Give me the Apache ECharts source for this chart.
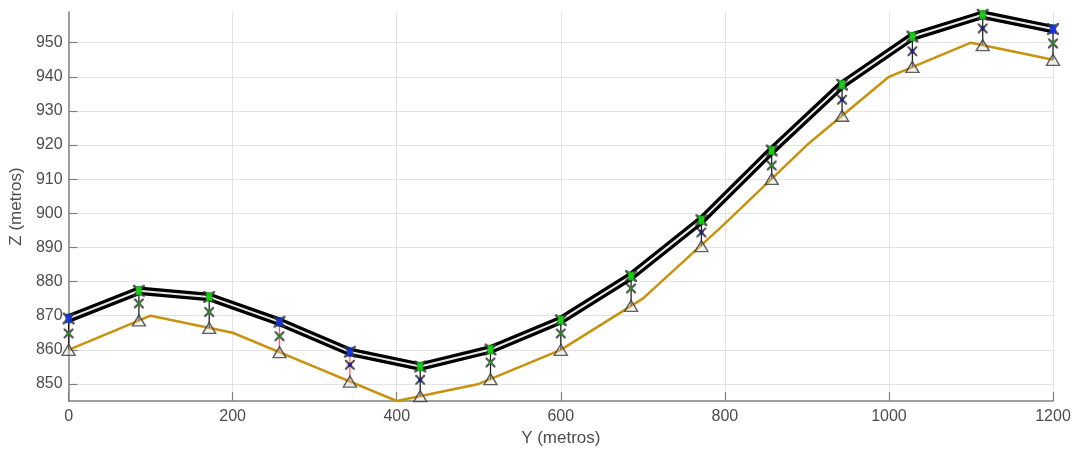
<!DOCTYPE html>
<html>
<head>
<meta charset="utf-8">
<script src="https://cdn.jsdelivr.net/npm/echarts@6/dist/echarts.min.js"></script>
<style>
  html, body { margin: 0; padding: 0; background: #fff; }
  #main { width: 1077px; height: 454px; }
</style>
</head>
<body>
<div id="main"></div>
<script>
// perfil del terreno (cada 100 m)
var terrainY = [0, 100, 200, 300, 400, 500, 600, 700, 800, 900, 1000, 1100, 1200];
var terrainZ = [860, 870, 865, 855, 845, 850, 860, 875, 897, 920, 940, 950, 945];

// torres: posicion, cota de base, punto intermedio y punto de amarre del conductor
var towerY    = [0, 85.7, 171.4, 257.1, 342.9, 428.6, 514.3, 600, 685.7, 771.4, 857.1, 942.9, 1028.6, 1114.3, 1200];
var towerBase = [860, 868.6, 866.4, 859.3, 850.7, 846.4, 851.4, 860, 872.9, 890.4, 910.1, 928.6, 942.9, 949.3, 945];
var towerMid  = [864.8, 873.6, 871.1, 864, 855.6, 851.2, 856.3, 864.8, 878, 894.4, 914, 933.3, 947.5, 954.2, 949.8];
var towerTop  = [869.2, 877.3, 875.5, 868.2, 859.4, 855.1, 860.1, 868.7, 881.6, 898, 918.4, 937.7, 951.8, 958.2, 954];

// indices de torres con marcas distintas
var redPole = [3, 4];
var blueTop = [0, 3, 4, 14];
var navyMid = [4, 5, 9, 11, 12, 13];

var xTicks = [0, 200, 400, 600, 800, 1000, 1200];

var xPath = 'path://M0,0 L1.6,0 L5,3.4 L8.4,0 L10,0 L10,1.6 L6.6,5 L10,8.4 L10,10 L8.4,10 L5,6.6 L1.6,10 L0,10 L0,8.4 L3.4,5 L0,1.6 Z';

function pairs(xs, ys){
    var out = [];
    for (var i = 0; i < xs.length; i++) out.push([xs[i], ys[i]]);
    return out;
}

function has(list, i){ return list.indexOf(i) >= 0; }

function initChart(){
    var myChart = echarts.init(document.getElementById('main'));

    var poleData = [], midData = [], topData = [];
    for (var i = 0; i < towerY.length; i++) {
        poleData.push([towerY[i], towerBase[i], towerTop[i], has(redPole, i) ? 1 : 0]);
        midData.push({value: [towerY[i], towerMid[i]], itemStyle: {color: has(navyMid, i) ? '#1a1a8c' : '#1f9a1f'}});
        topData.push({value: [towerY[i], towerTop[i]], itemStyle: {color: has(blueTop, i) ? '#1030ff' : '#10ee10'}});
    }

    var fontFam = 'Liberation Sans, Arial, sans-serif';

    var option = {
        animation: false,
        backgroundColor: '#fff',
        grid: {left: 66, right: 24, top: 12, bottom: 53},
        xAxis: {
            type: 'value',
            min: 0, max: 1200, interval: 200,
            name: 'Y (metros)',
            nameLocation: 'middle',
            nameGap: 27,
            nameTextStyle: {color: '#4d4d4d', fontSize: 17, fontFamily: fontFam},
            axisLine: {show: true, lineStyle: {color: '#808080', width: 1.5}},
            axisTick: {inside: true, length: 9, lineStyle: {color: '#808080', width: 1.2}},
            axisLabel: {margin: 8, color: '#4d4d4d', fontSize: 16, fontFamily: fontFam,
                formatter: function(v){ return xTicks.indexOf(v) >= 0 ? String(v) : ''; }},
            splitLine: {show: true, lineStyle: {color: '#e3e3e3', width: 1}}
        },
        yAxis: {
            type: 'value',
            min: 845, max: 959,
            minInterval: 10, maxInterval: 10,
            name: 'Z (metros)',
            nameLocation: 'middle',
            nameGap: 42,
            nameTextStyle: {color: '#4d4d4d', fontSize: 17, fontFamily: fontFam},
            axisLine: {show: true, lineStyle: {color: '#808080', width: 1.5}},
            axisTick: {inside: true, length: 9, lineStyle: {color: '#808080', width: 1.2},
                interval: function(idx, v){ return v % 10 === 0; }},
            axisLabel: {margin: 6, showMinLabel: false, showMaxLabel: false,
                color: '#4d4d4d', fontSize: 16, fontFamily: fontFam,
                formatter: function(v){ return v % 10 === 0 ? String(v) : ''; }},
            splitLine: {show: true, showMinLine: false, showMaxLine: false, lineStyle: {color: '#e3e3e3', width: 1}}
        },
        series: [
            {
                name: 'terreno',
                type: 'line',
                data: pairs(terrainY, terrainZ),
                showSymbol: false,
                lineStyle: {color: '#c8920f', width: 2.5},
                z: 2
            },
            {
                name: 'postes',
                type: 'custom',
                data: poleData,
                encode: {x: 0, y: [1, 2]},
                renderItem: function(params, api){
                    var p0 = api.coord([api.value(0), api.value(1)]);
                    var p1 = api.coord([api.value(0), api.value(2)]);
                    return {
                        type: 'line',
                        shape: {x1: p0[0], y1: p0[1], x2: p1[0], y2: p1[1]},
                        style: {stroke: api.value(3) ? '#ff5a5a' : '#222', lineWidth: 1.3}
                    };
                },
                z: 3
            },
            {
                name: 'base',
                type: 'scatter',
                data: pairs(towerY, towerBase),
                symbol: 'triangle',
                symbolSize: [13, 11],
                itemStyle: {color: 'rgba(215,215,215,0.45)', borderColor: '#3a3a3a', borderWidth: 1.4},
                z: 4
            },
            {
                name: 'medio x',
                type: 'scatter',
                data: pairs(towerY, towerMid),
                symbol: xPath,
                symbolSize: 10,
                itemStyle: {color: '#333'},
                z: 5
            },
            {
                name: 'medio',
                type: 'scatter',
                data: midData,
                symbol: 'rect',
                symbolSize: 4,
                z: 6
            },
            {
                name: 'conductor',
                type: 'line',
                data: pairs(towerY, towerTop),
                showSymbol: false,
                lineStyle: {color: '#000', width: 8.5},
                z: 7
            },
            {
                name: 'conductor hueco',
                type: 'line',
                data: pairs(towerY, towerTop),
                showSymbol: false,
                lineStyle: {color: '#e9e9e9', width: 2},
                z: 8
            },
            {
                name: 'amarre x',
                type: 'scatter',
                data: pairs(towerY, towerTop),
                symbol: xPath,
                symbolSize: 12,
                itemStyle: {color: '#333'},
                z: 9
            },
            {
                name: 'amarre',
                type: 'scatter',
                data: topData,
                symbol: 'rect',
                symbolSize: [6, 9],
                itemStyle: {borderColor: '#1a4a1a', borderWidth: 0.5},
                z: 10
            }
        ]
    };

    myChart.setOption(option);
}

initChart();
</script>
</body>
</html>
